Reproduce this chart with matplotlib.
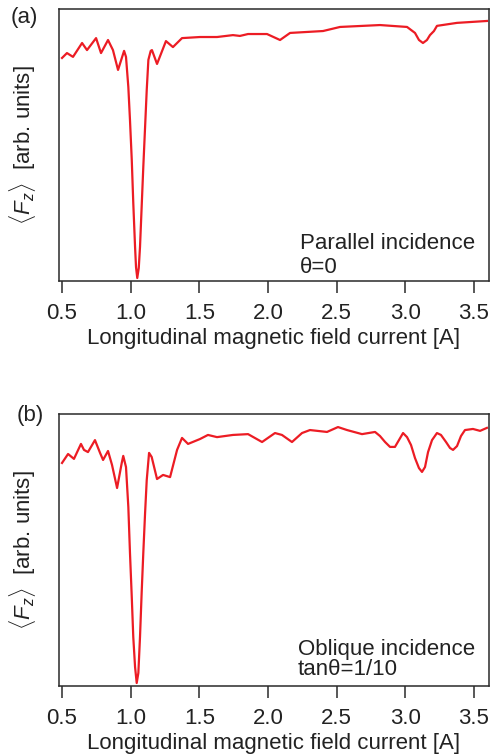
import matplotlib
matplotlib.use("Agg")
import matplotlib.pyplot as plt

plt.rcParams['font.family'] = ['Liberation Sans', 'DejaVu Sans']
plt.rcParams['mathtext.fontset'] = 'custom'
plt.rcParams['mathtext.rm'] = 'Liberation Sans'
plt.rcParams['mathtext.it'] = 'Liberation Sans:italic'

# Panel (a): parallel incidence
xa = [0.500, 0.536, 0.580, 0.646, 0.682, 0.748, 0.784, 0.835, 0.871, 0.908,
      0.952, 0.966, 0.983, 0.995, 1.008, 1.019, 1.032, 1.039, 1.048, 1.059,
      1.068, 1.080, 1.092, 1.105, 1.117, 1.129, 1.146, 1.155, 1.192, 1.257,
      1.308, 1.374, 1.505, 1.629, 1.745, 1.796, 1.855, 1.993, 2.088, 2.161,
      2.401, 2.525, 2.816, 3.013, 3.071, 3.100, 3.129, 3.158, 3.180, 3.209,
      3.231, 3.377, 3.595]
ya = [82.0, 83.8, 82.4, 87.5, 84.9, 89.3, 83.8, 88.6, 84.9, 77.6,
      84.6, 82.4, 71.3, 59.2, 44.5, 28.7, 12.5, 5.1, 1.1, 4.8,
      12.5, 27.2, 41.9, 56.6, 70.2, 81.3, 84.6, 84.9, 79.8, 88.2,
      86.0, 89.3, 89.7, 89.7, 90.4, 90.1, 90.8, 90.8, 88.6, 91.2,
      91.9, 93.4, 94.1, 93.4, 91.2, 88.6, 87.5, 88.6, 90.4, 91.9,
      93.8, 94.9, 95.6]

# Panel (b): oblique incidence
xb = [0.500, 0.544, 0.587, 0.638, 0.660, 0.689, 0.740, 0.777, 0.799, 0.835,
      0.864, 0.901, 0.935, 0.946, 0.966, 0.983, 0.995, 1.008, 1.019, 1.032,
      1.044, 1.056, 1.068, 1.080, 1.092, 1.105, 1.117, 1.134, 1.153, 1.192,
      1.236, 1.287, 1.338, 1.374, 1.418, 1.505, 1.563, 1.629, 1.745, 1.855,
      1.957, 2.051, 2.102, 2.175, 2.248, 2.306, 2.430, 2.510, 2.576, 2.685,
      2.780, 2.816, 2.853, 2.889, 2.925, 2.954, 2.984, 3.013, 3.042, 3.071,
      3.100, 3.122, 3.144, 3.166, 3.195, 3.231, 3.260, 3.297, 3.326, 3.348,
      3.377, 3.406, 3.435, 3.493, 3.545, 3.595]
yb = [82.0, 85.3, 83.5, 89.0, 86.8, 86.0, 90.4, 85.7, 83.1, 86.4,
      81.3, 72.8, 82.0, 84.6, 80.5, 65.8, 48.9, 32.7, 18.0, 7.0,
      1.1, 4.8, 18.0, 34.2, 48.9, 63.6, 75.7, 85.7, 84.2, 76.1,
      77.6, 76.8, 86.8, 91.2, 89.0, 90.8, 92.3, 91.5, 92.3, 92.6,
      89.7, 93.0, 92.3, 89.7, 93.0, 94.1, 93.4, 95.2, 94.1, 92.6,
      93.4, 91.9, 89.7, 87.9, 87.9, 90.4, 93.0, 91.5, 88.6, 83.8,
      80.1, 78.7, 80.5, 86.0, 90.4, 93.0, 92.3, 89.7, 87.5, 86.8,
      88.2, 91.9, 94.1, 94.5, 93.8, 94.9]

xticks = [0.5, 1.0, 1.5, 2.0, 2.5, 3.0, 3.5]
xtick_labels = ["0.5", "1.0", "1.5", "2.0", "2.5", "3.0", "3.5"]
panel_labels = ["(a)", "(b)"]
annotations = [("Parallel incidence", "\u03b8=0"),
               ("Oblique incidence", "tan\u03b8=1/10")]
xlabel = "Longitudinal magnetic field current [A]"
ylabel = r"$\langle F_z \rangle$  [arb. units]"

W, H = 491, 755
fig = plt.figure(figsize=(W / 100, H / 100), dpi=100)

red = '#ec1c24'
spine_c = '#2a2a2a'
txt_c = '#222222'
fs = 16

boxes = [(59, 9, 489, 281), (59, 414, 489, 686)]
ann_pos = [((0.560, 0.118), (0.560, 0.030)), ((0.556, 0.114), (0.556, 0.040))]
lab_pos = [(24, 17), (30, 416)]
data = [(xa, ya), (xb, yb)]

for i, (l, t, r, b) in enumerate(boxes):
    ax = fig.add_axes([l / W, 1 - b / H, (r - l) / W, (b - t) / H])
    x, y = data[i]
    ax.plot(x, y, color=red, lw=1.6, solid_joinstyle='round')
    ax.set_xlim(0.478, 3.610)
    ax.set_ylim(0, 100)
    ax.set_xticks(xticks)
    ax.set_xticklabels(xtick_labels)
    ax.set_yticks([])
    ax.tick_params(axis='x', direction='out', length=8.6, width=1.1,
                   color=spine_c, labelsize=fs, pad=7.5, labelcolor=txt_c)
    for s in ax.spines.values():
        s.set_color(spine_c)
        s.set_linewidth(1.1)
    ax.set_xlabel(xlabel, fontsize=fs, color=txt_c, labelpad=2.5)
    (p1, p2) = ann_pos[i]
    ax.text(p1[0], p1[1], annotations[i][0], transform=ax.transAxes,
            fontsize=fs, va='baseline', ha='left', color=txt_c)
    ax.text(p2[0], p2[1], annotations[i][1], transform=ax.transAxes,
            fontsize=fs, va='baseline', ha='left', color=txt_c)
    yc = (t + b) / 2
    fig.text(23 / W, 1 - yc / H, ylabel, rotation=90, ha='center',
             va='center', fontsize=fs, color=txt_c)
    fig.text(lab_pos[i][0] / W, 1 - lab_pos[i][1] / H, panel_labels[i],
             ha='center', va='center', fontsize=fs, color=txt_c)

fig.savefig("out.png", dpi=100)
